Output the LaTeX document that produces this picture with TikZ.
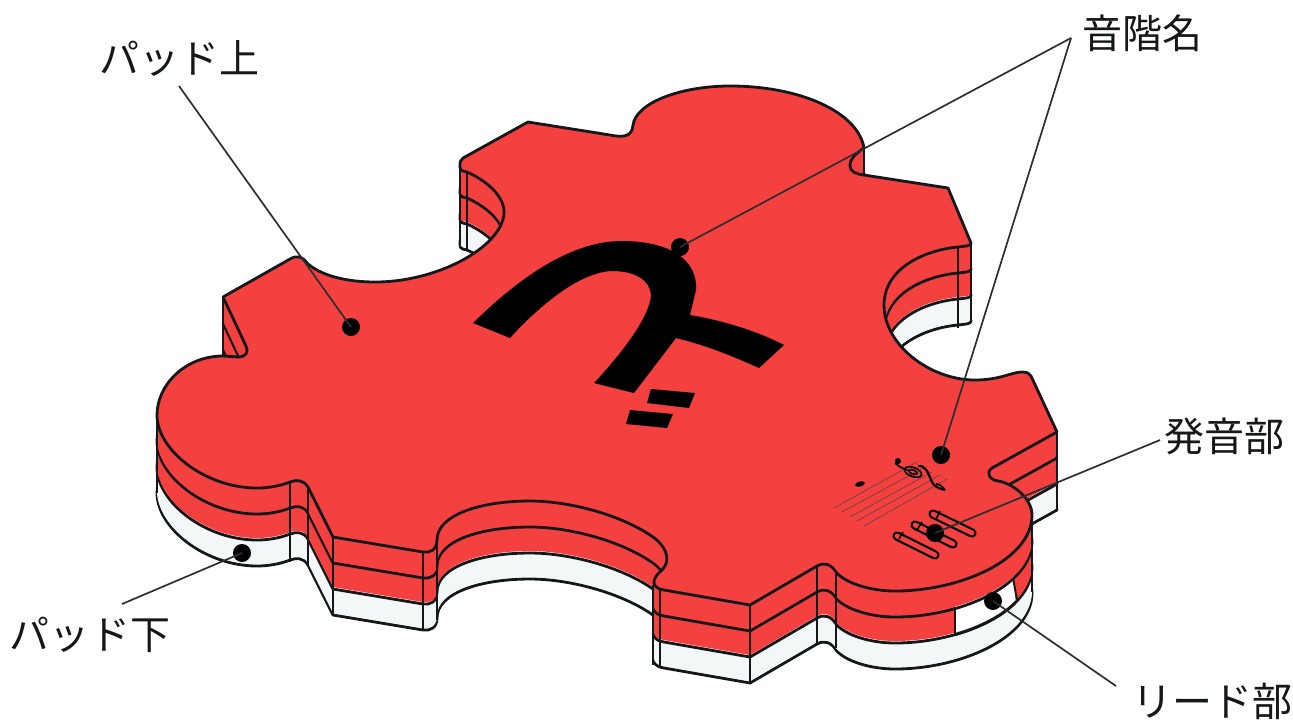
\documentclass[tikz,border=0pt]{standalone}
\usepackage{fontspec}
\setmainfont{Noto Sans CJK JP}
\usetikzlibrary{arrows.meta, positioning, calc}
\definecolor{padred}{HTML}{F4403E}
\definecolor{padwhite}{HTML}{F3F7F8}
\definecolor{padline}{HTML}{14181A}
\tikzset{
  edge/.style    = {draw=padline, line width=1.4pt, line join=round},
  rib/.style     = {draw=padline, line width=1pt},
  lead/.style    = {draw=padline!90, line width=0.85pt},
  dot/.style     = {circle, fill=black, inner sep=0pt, minimum size=9pt},
  lab/.style     = {font=\fontsize{20}{20}\selectfont, inner sep=1pt, text=padline},
  staff/.style   = {draw=padline!80, line width=0.25pt},
  clef/.style    = {draw=black, line width=0.8pt},
  slotout/.style = {draw=black, line width=4.6pt, line cap=round},
  slotin/.style  = {draw=padred, line width=2.4pt, line cap=round},
}
\newcommand{\padoutline}{
  (463,158) -- (528,122) -- (610,135) .. controls (625,138) and (632,136) .. (633,125)
  .. controls (636,103) and (680,86) .. (730,86)
  .. controls (800,86) and (858,112) .. (864,148)
  .. controls (858,152) and (850,158) .. (850,165) .. controls (850,172) and (856,174) .. (864,175)
  -- (948,188) -- (971,243) .. controls (971,246) and (966,246) .. (958,247)
  .. controls (925,250) and (884,268) .. (884,305)
  .. controls (884,345) and (930,380) .. (975,380)
  .. controls (1000,380) and (1012,372) .. (1022,372) .. controls (1027,372) and (1029,373) .. (1031,376)
  -- (1057,432) -- (992,468) .. controls (985,473) and (990,480) .. (998,481)
  .. controls (1012,483) and (1032,498) .. (1032,515)
  .. controls (1032,560) and (960,591) .. (895,591)
  .. controls (870,591) and (845,583) .. (836,572)
  .. controls (831,564) and (824,562) .. (817,566)
  -- (750,605) -- (664,590) .. controls (650,588) and (652,578) .. (662,570)
  .. controls (672,560) and (666,545) .. (650,535)
  .. controls (620,515) and (570,501) .. (530,501)
  .. controls (480,501) and (437,515) .. (437,540)
  .. controls (437,550) and (430,553) .. (423,552)
  -- (333,537) -- (308,487) .. controls (303,479) and (296,480) .. (290,482)
  .. controls (280,486) and (268,488) .. (257,488)
  .. controls (205,488) and (157,450) .. (157,415)
  .. controls (157,385) and (185,356) .. (223,356)
  -- (238,357) .. controls (246,357) and (249,352) .. (246,346)
  -- (223,297) -- (290,259) .. controls (297,255) and (302,256) .. (307,263)
  .. controls (320,275) and (345,282) .. (375,282)
  .. controls (440,282) and (504,245) .. (504,212)
  .. controls (504,195) and (485,180) .. (467,172)
  .. controls (463,171) and (460,171) .. (460,167)
  .. controls (460,162) and (460,160) .. (463,158)
  -- cycle
}
\newcommand{\slotcap}[4]{
  \draw[slotout] (#1,#2) -- (#3,#4);
  \draw[slotin] (#1,#2) -- (#3,#4);
}
\begin{document}
\begin{tikzpicture}[x=0.5pt, y=-0.5pt]
  \useasboundingbox (0,0) rectangle (1293,719);

  \draw[edge, fill=padwhite, shift={(0,78)}] \padoutline;
  \foreach \d in {76,74,...,54}
    \fill[padwhite, shift={(0,\d)}] \padoutline;
  \draw[edge, shift={(0,52)}] \padoutline;
  \foreach \d in {50,48,...,28}
    \fill[padred, shift={(0,\d)}] \padoutline;

  \begin{scope}
    \clip (955,595) -- (1013,565) -- (1017,620) -- (955,650) -- cycle;
    \fill[white, shift={(0,50)}] \padoutline;
    \draw[edge, shift={(0,52)}] \padoutline;
  \end{scope}

  \draw[edge, shift={(0,26)}] \padoutline;
  \foreach \d in {24,22,...,2}
    \fill[padred, shift={(0,\d)}] \padoutline;

  \foreach \x/\a/\b in {157/415/493, 290/483/562, 308/487/565, 333/537/615, 423/552/630,
                        437/535/620, 653/585/665, 660/590/668, 750/605/683, 817/566/644,
                        836/572/648, 1032/515/592, 1057/432/510, 460/165/245, 467/172/250,
                        958/247/328, 971/243/321, 223/297/356, 864/148/175, 955/610/636}
    \draw[rib] (\x,\a) -- (\x,\b);
  \draw[rib] (1013,578) -- (1017,600);

  \draw[edge, fill=padred] \padoutline;

  \fill[black] (473,323) .. controls (525,272) and (575,241) .. (622,241)
        .. controls (670,241) and (698,260) .. (696,290) -- (690,315)
        .. controls (720,320) and (755,330) .. (784,345) -- (759,368)
        .. controls (730,355) and (705,345) .. (676,338) -- (634,393) -- (594,383)
        .. controls (625,350) and (650,315) .. (651,295)
        .. controls (650,280) and (635,271) .. (612,271)
        .. controls (580,272) and (540,305) .. (510,338) -- cycle;
  \fill[black] (651,389) -- (695,393) -- (689,408) -- (647,403) -- cycle;
  \fill[black] (630,410) -- (673,414) -- (667,428) -- (626,424) -- cycle;

  \foreach \sx/\sy/\ex/\ey in {834/508/917/462, 842/512/925/467, 850/517/932/472,
                               857/521/940/475, 864/526/947/479}
    \draw[staff] (\sx,\sy) -- (\ex,\ey);
  \fill[black, rotate around={15:(860,484)}] (860,484) ellipse (5 and 2.5);
  \fill[black] (898,461) circle (3);
  \draw[clef] (895,463) .. controls (899,467) and (904,469) .. (908,470);
  \draw[clef, rotate around={-20:(913,472)}] (913,472) ellipse (9 and 4.5);
  \draw[clef, rotate around={-20:(913,472)}] (913,472) ellipse (4.5 and 2);
  \draw[clef, line width=1.1pt] (918,466) .. controls (925,465) and (928,472) .. (931,480)
        .. controls (933,486) and (939,489) .. (945,490);
  \draw[clef] (936,484) .. controls (939,484) and (942,486) .. (945,490);

  \slotcap{897}{536}{935}{555}
  \slotcap{915}{525}{953}{544}
  \slotcap{933}{514}{972}{533}
  \foreach \sx/\sy/\ex/\ey in {903/532/899/539, 922/522/917/530, 940/511/936/519}
    \draw[clef] (\sx,\sy) -- (\ex,\ey);

  \node[dot] (dtop) at (351,327) {};
  \node[dot] (dglyph) at (680,247) {};
  \node[dot] (dclef) at (941,455) {};
  \node[dot] (dslot) at (935,533) {};
  \node[dot] (dreed) at (993,601) {};
  \node[dot] (dunder) at (242,553) {};

  \node[lab] (ltop) at (179,58) {パッド上};
  \node[lab] (lscale) at (1142,33) {音階名};
  \node[lab] (lsound) at (1224,436) {発音部};
  \node[lab] (lunder) at (90,635) {パッド下};
  \node[lab] (lreed) at (1212,701) {リード部};

  \coordinate (ctop) at (179,86);
  \coordinate (cscale) at (1071,38);
  \coordinate (csound) at (1160,440);
  \coordinate (cunder) at (122,604);
  \coordinate (creed) at (1116,686);

  \draw[lead] (ctop) -- (dtop.center);
  \draw[lead] (cscale) -- (dglyph.center);
  \draw[lead] (cscale) -- (dclef.center);
  \draw[lead] (csound) -- (dslot.center);
  \draw[lead] (cunder) -- (dunder.center);
  \draw[lead] (creed) -- (dreed.center);
\end{tikzpicture}
\end{document}
